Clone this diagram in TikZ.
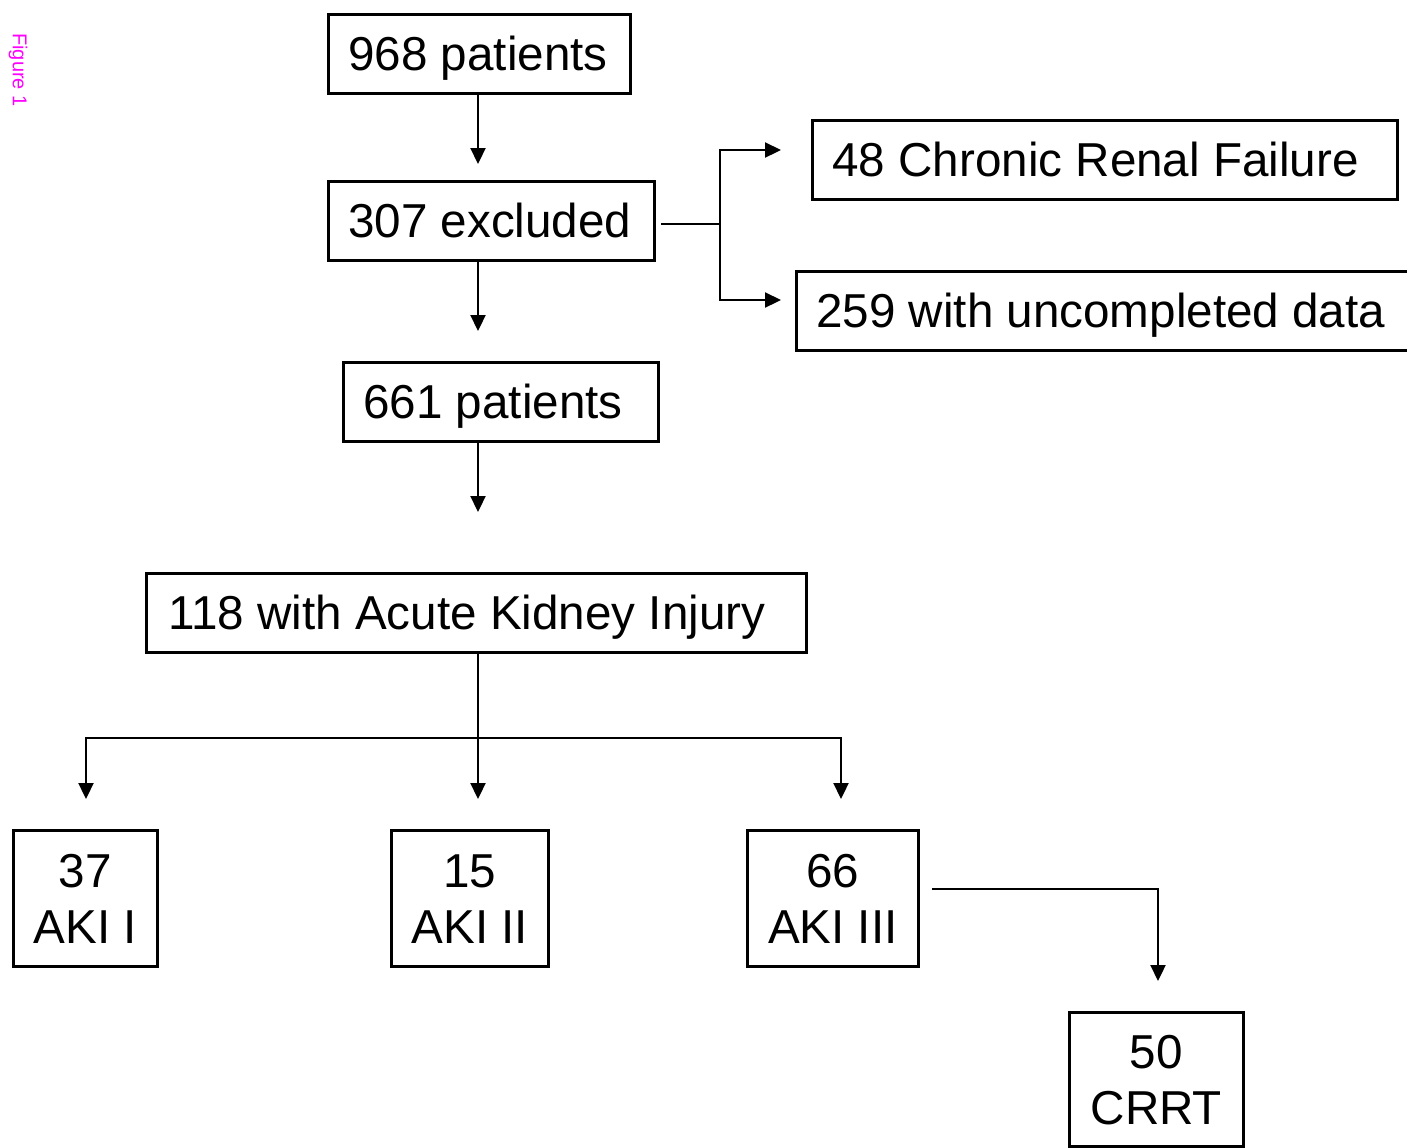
\documentclass[tikz,border=0pt]{standalone}
\usepackage{fontspec}
\setmainfont{Liberation Sans}
\usetikzlibrary{arrows.meta}
\definecolor{figmag}{HTML}{FF00FF}
\begin{document}
\begin{tikzpicture}[x=0.5pt,y=-0.5pt,
  box/.style={draw, line width=1.3pt, anchor=north west, inner xsep=10pt, inner ysep=0pt,
    text height=17.1pt, text depth=0pt, align=flush left, minimum height=39.5pt,
    font=\fontsize{23.8}{28}\selectfont},
  tbox/.style={draw, line width=1.3pt, anchor=north west, inner xsep=0pt, inner ysep=0pt,
    text height=17.1pt, text depth=28pt, align=flush center,
    font=\fontsize{23.8}{28}\selectfont},
  conn/.style={line width=1.1pt},
  arr/.style={line width=1.1pt, -{Triangle[length=8pt,width=7.5pt]}}]
\clip (0,0) rectangle (1407,1147);
\fill[white] (0,0) rectangle (1407,1147);

\node[rotate=-90, text=figmag, font=\fontsize{10}{12}\selectfont] (fig) at (18,70) {Figure 1};

\node[box, text width=131pt] (n968) at (327,13) {\mbox{968 patients}};
\node[box, text width=143pt] (n307) at (327,180) {\mbox{307 excluded}};
\node[box, text width=137.5pt] (n661) at (342,361) {\mbox{661 patients}};
\node[box, text width=272.5pt] (ncrf) at (811,119) {\mbox{48 Chronic Renal Failure}};
\node[box, text width=300pt] (nunc) at (795,270) {\mbox{259 with uncompleted data}};
\node[box, text width=308pt, inner xsep=11pt] (naki) at (145,572) {\mbox{118 with Acute Kidney Injury}};

\node[tbox, text width=72pt, minimum height=68pt] (a1) at (12,829) {37\\AKI I};
\node[tbox, text width=78.5pt, minimum height=68pt] (a2) at (390,829) {15\\AKI II};
\node[tbox, text width=85.5pt, minimum height=68pt] (a3) at (746,829) {66\\AKI III};
\node[tbox, text width=87pt, minimum height=67pt] (crrt) at (1068,1011) {50\\CRRT};

\coordinate (t1) at (478,164);
\coordinate (t2) at (478,331);
\coordinate (t3) at (478,512);
\coordinate (e1) at (661,224);
\coordinate (j1) at (720,224);
\coordinate (tcrf) at (781,150);
\coordinate (tunc) at (781,300);
\coordinate (j2) at (478,738);
\coordinate (ta1) at (86,799);
\coordinate (ta2) at (478,799);
\coordinate (ta3) at (841,799);
\coordinate (e3) at (932,889);
\coordinate (tcr) at (1158,981);

\draw[arr] (t1 |- n968.south) -- (t1);
\draw[arr] (t2 |- n307.south) -- (t2);
\draw[arr] (t3 |- n661.south) -- (t3);
\draw[conn] (e1) -- (j1);
\draw[arr] (j1) |- (tcrf);
\draw[arr] (j1) |- (tunc);
\draw[conn] (j2 |- naki.south) -- (j2);
\draw[arr] (j2) -| (ta1);
\draw[arr] (j2) -| (ta3);
\draw[arr] (j2) -- (ta2);
\draw[arr] (e3) -| (tcr);
\end{tikzpicture}
\end{document}
